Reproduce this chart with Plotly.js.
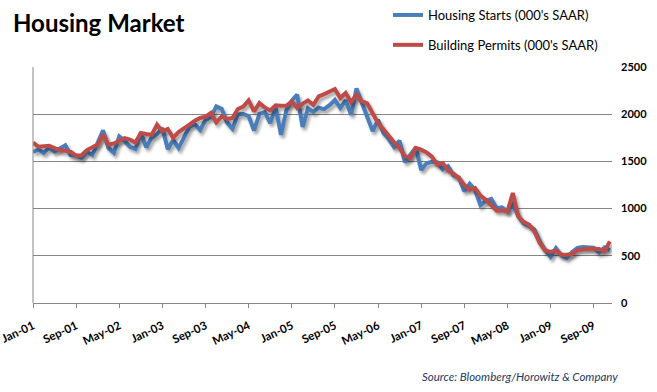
<!DOCTYPE html>
<html>
<head>
<meta charset="utf-8">
<script src="https://cdn.plot.ly/plotly-3.0.1.min.js"></script>
<style>
html,body{margin:0;padding:0;background:#fff;}
#chart{width:657px;height:392px;}
.scatterlayer .js-line{filter:drop-shadow(2px 3px 1.5px rgba(0,0,0,0.35));}
</style>
</head>
<body>
<div id="chart"></div>
<script>
const monthNames = ["Jan","Feb","Mar","Apr","May","Jun","Jul","Aug","Sep","Oct","Nov","Dec"];
const years = ["01","02","03","04","05","06","07","08","09"];
const months = [];
years.forEach(y => monthNames.forEach(m => months.push(m + "-" + y)));

const housingStarts = [
  1600,1625,1590,1649,1605,1636,1670,1567,1562,1540,1602,1568,
  1698,1829,1642,1592,1764,1717,1655,1633,1804,1648,1753,1788,
  1853,1629,1726,1643,1751,1867,1897,1833,1939,1967,2083,2057,
  1911,1846,1998,2003,1981,1828,2002,2024,1905,2072,1782,2042,
  2144,2207,1864,2061,2025,2068,2054,2095,2151,2065,2147,1994,
  2273,2119,1969,1821,1942,1802,1737,1650,1720,1491,1570,1649,
  1409,1480,1495,1490,1415,1448,1354,1330,1183,1264,1197,1037,
  1084,1103,1005,1013,973,1046,923,844,820,777,652,560,
  490,582,505,478,540,585,594,586,585,534,588,562
];
const buildingPermits = [
  1699,1656,1660,1665,1640,1620,1614,1600,1560,1565,1620,1650,
  1680,1784,1677,1690,1715,1747,1730,1700,1800,1795,1780,1889,
  1818,1843,1751,1810,1855,1890,1930,1960,1975,2013,1913,1977,
  1950,1960,2055,2080,2146,2030,2118,2070,2040,2095,2090,2090,
  2136,2065,2110,2146,2100,2189,2213,2240,2267,2171,2225,2126,
  2207,2137,2116,2010,1906,1840,1765,1700,1640,1553,1535,1642,
  1625,1596,1550,1465,1483,1401,1370,1324,1250,1200,1218,1137,
  1094,1030,981,981,970,1165,918,860,830,759,635,557,
  540,557,512,512,518,560,572,575,575,572,547,653
];
const tickLabels = months.filter((_, i) => i % 8 === 0);
const yTicks = [0, 500, 1000, 1500, 2000, 2500];

const traces = [
  {x: months, y: housingStarts, type: "scatter", mode: "lines", name: "Housing Starts (000's SAAR)",
   legendgroup: "a", line: {color: "#4a7ebb", width: 4}},
  {x: months, y: buildingPermits, type: "scatter", mode: "lines", name: "Building Permits (000's SAAR)",
   legendgroup: "b", line: {color: "#be4b48", width: 4}}
];

const layout = {
  width: 657, height: 392,
  margin: {l: 33, r: 45, t: 67, b: 89, autoexpand: false},
  paper_bgcolor: "#fff", plot_bgcolor: "#fff",
  font: {family: "Lato, 'Liberation Sans', sans-serif", color: "#000"},
  showlegend: true,
  legend: {xref: "container", yref: "container", x: 388/657, y: 1, xanchor: "left", yanchor: "top",
           orientation: "v", tracegroupgap: 10, font: {size: 13, color: "#000"}, bgcolor: "rgba(0,0,0,0)"},
  xaxis: {type: "category", range: [0, 107.4], tickmode: "array", tickvals: tickLabels, ticktext: tickLabels,
          tickangle: -25, ticks: "outside", ticklen: 4, tickcolor: "#868686", ticklabelstandoff: 7,
          showgrid: false, showline: true, linecolor: "#868686", linewidth: 1,
          tickfont: {size: 11.5, color: "#000", weight: "bold"}, fixedrange: true},
  yaxis: {range: [0, 2500], side: "right", tickvals: yTicks, ticks: "", showline: false,
          gridcolor: "#868686", gridwidth: 1, zeroline: false, ticklabelstandoff: 8,
          tickfont: {size: 11, color: "#000", weight: "bold"}, fixedrange: true},
  shapes: [{type: "line", xref: "paper", yref: "paper", x0: 0, x1: 0, y0: 0, y1: 1,
            line: {color: "#868686", width: 1}}],
  title: {text: "<b>Housing Market</b>", x: 13/657, xanchor: "left", y: 0.94, yanchor: "middle",
          font: {size: 24, color: "#000", family: "Lato, sans-serif"}},
  annotations: [{text: "<i>Source: Bloomberg/Horowitz & Company</i>", xref: "paper", yref: "paper",
                 x: (620-33)/579, y: -0.31, xanchor: "right", yanchor: "middle", showarrow: false,
                 font: {size: 11.5, color: "#1f3864"}}]
};

Plotly.newPlot("chart", traces, layout, {displayModeBar: false, staticPlot: true});
</script>
</body>
</html>
